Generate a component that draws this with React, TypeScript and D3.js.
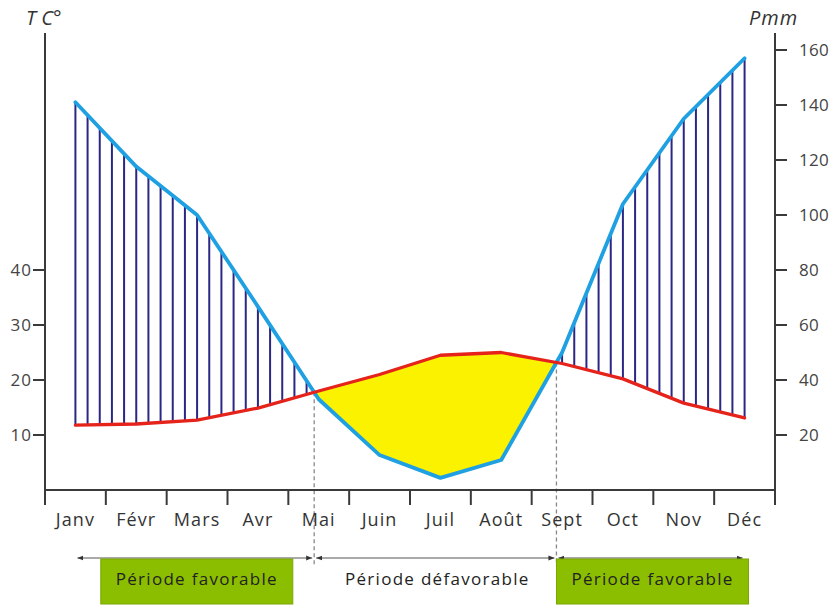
import React from 'react';
import * as d3 from 'd3';

const months = ['Janv', 'Févr', 'Mars', 'Avr', 'Mai', 'Juin', 'Juil', 'Août', 'Sept', 'Oct', 'Nov', 'Déc'];
const temperature = [11.8, 12, 12.7, 14.9, 18, 21, 24.5, 25, 23, 20.2, 15.8, 13.1];
const precipitation = [141, 117.6, 100, 66.7, 33, 12.7, 4.4, 10.9, 50, 104, 135, 157];
const tempTicks = [10, 20, 30, 40];
const precTicks = [20, 40, 60, 80, 100, 120, 140, 160];
const periodLabels = ['Période favorable', 'Période défavorable', 'Période favorable'];
const periodBoxed = [true, false, true];

const FONT = "'Open Sans', 'DejaVu Sans', sans-serif";

export default function App() {
  const x0 = 45, x1 = 775, yBase = 490, yTop = 50, axisTop = 33;
  const band = d3.scaleBand<string>().domain(months).range([x0, x1]).padding(0);
  const xm = d3.scaleLinear().domain([-0.5, months.length - 0.5]).range([x0, x1]);
  const yT = d3.scaleLinear().domain([0, 80]).range([yBase, yTop]);
  const yP = d3.scaleLinear().domain([0, 160]).range([yBase, yTop]);

  const interp = (arr: number[], f: number) => {
    const i = Math.max(0, Math.min(Math.floor(f), arr.length - 2));
    const t = f - i;
    return arr[i] * (1 - t) + arr[i + 1] * t;
  };
  const diff = (f: number) => yP(interp(precipitation, f)) - yT(interp(temperature, f));

  const crossings: number[] = [];
  for (let i = 0; i < months.length - 1; i++) {
    const d0 = diff(i), d1 = diff(i + 1);
    if ((d0 < 0 && d1 >= 0) || (d0 >= 0 && d1 < 0)) crossings.push(i + d0 / (d0 - d1));
  }
  const [c1, c2] = crossings;

  const dryPts: [number, number][] = [];
  dryPts.push([xm(c1), yT(interp(temperature, c1))]);
  for (let i = Math.ceil(c1); i <= Math.floor(c2); i++) dryPts.push([xm(i), yT(temperature[i])]);
  dryPts.push([xm(c2), yT(interp(temperature, c2))]);
  for (let i = Math.floor(c2); i >= Math.ceil(c1); i--) dryPts.push([xm(i), yP(precipitation[i])]);
  const dryPath = d3.line()(dryPts) + 'Z';

  const hatches: { x: number; ya: number; yb: number }[] = [];
  for (let k = 0; k <= (months.length - 1) * 5; k++) {
    const f = k / 5;
    const a = yT(interp(temperature, f));
    const b = yP(interp(precipitation, f));
    if (b < a - 0.5) hatches.push({ x: xm(f), ya: a, yb: b });
  }

  const lineT = d3.line<number>().x((_, i) => xm(i)).y((d) => yT(d))(temperature) || '';
  const lineP = d3.line<number>().x((_, i) => xm(i)).y((d) => yP(d))(precipitation) || '';

  const boundaries = [...months.map((m) => band(m) as number), x1];

  const segs = [
    [xm(0), xm(c1)],
    [xm(c1), xm(c2)],
    [xm(c2), xm(months.length - 1)],
  ];
  const arrowY = 558;
  const boxW = 192;

  return (
    <svg width={835} height={606} style={{ position: 'absolute', left: 0, top: 0, background: '#fff' }}>
      <defs>
        <marker id="ah" viewBox="0 0 10 10" refX="10" refY="5" markerWidth="6" markerHeight="6" orient="auto-start-reverse">
          <path d="M0,1 L10,5 L0,9 Z" fill="#333" />
        </marker>
      </defs>

      {hatches.map((h, i) => (
        <line key={i} x1={h.x} x2={h.x} y1={h.ya} y2={h.yb} stroke="#2b2785" strokeWidth={2} />
      ))}

      <path d={dryPath} fill="#fbf200" stroke="none" />

      {crossings.map((c, i) => (
        <line key={i} x1={xm(c)} x2={xm(c)} y1={yT(interp(temperature, c))} y2={566} stroke="#888" strokeWidth={1.3} strokeDasharray="4 3" />
      ))}

      <path d={lineP} fill="none" stroke="#1ea0e2" strokeWidth={3.8} strokeLinejoin="round" strokeLinecap="round" />
      <path d={lineT} fill="none" stroke="#e5231b" strokeWidth={3.3} strokeLinejoin="round" strokeLinecap="round" />

      <g stroke="#3a3a3a" strokeWidth={2}>
        <line x1={x0} x2={x0} y1={axisTop} y2={505} />
        <line x1={x1} x2={x1} y1={axisTop} y2={505} />
        <line x1={x0} x2={x1} y1={yBase} y2={yBase} />
        {boundaries.map((b, i) => (
          <line key={i} x1={b} x2={b} y1={yBase} y2={505} />
        ))}
        {tempTicks.map((t) => (
          <line key={t} x1={x0 - 12} x2={x0} y1={yT(t)} y2={yT(t)} />
        ))}
        {precTicks.map((p) => (
          <line key={p} x1={x1} x2={x1 + 12} y1={yP(p)} y2={yP(p)} />
        ))}
      </g>
      <g fontFamily={FONT} fontSize={17} fill="#444">
        {tempTicks.map((t) => (
          <text key={t} x={x0 - 13} y={yT(t)} dy="0.35em" textAnchor="end" letterSpacing={1}>{t}</text>
        ))}
        {precTicks.map((p) => (
          <text key={p} x={x1 + 24} y={yP(p)} dy="0.35em" textAnchor="start" letterSpacing={0.3}>{p}</text>
        ))}
      </g>
      <g fontFamily={FONT} fontSize={18} fill="#333" letterSpacing={1.1}>
        {months.map((m) => (
          <text key={m} x={(band(m) as number) + band.bandwidth() / 2} y={526} textAnchor="middle">{m}</text>
        ))}
      </g>
      <text x={26} y={25} fontFamily={FONT} fontStyle="italic" fontSize={20} fill="#333">T C°</text>
      <text x={749} y={25} fontFamily={FONT} fontStyle="italic" fontSize={20} fill="#333" letterSpacing={1}>Pmm</text>

      {segs.map(([a, b], i) => {
        const cx = (a + b) / 2;
        return (
          <g key={i}>
            <line x1={a + 2} x2={b - 2} y1={arrowY} y2={arrowY} stroke="#555" strokeWidth={1} markerStart="url(#ah)" markerEnd="url(#ah)" />
            {periodBoxed[i] && (
              <rect x={cx - boxW / 2 + 2} y={559} width={boxW} height={45} fill="#8cbe00" stroke="#7ba600" strokeWidth={1} />
            )}
            <text x={cx + 2} y={585} textAnchor="middle" fontFamily={FONT} fontSize={17} fill="#222" letterSpacing={1.3}>
              {periodLabels[i]}
            </text>
          </g>
        );
      })}
    </svg>
  );
}
